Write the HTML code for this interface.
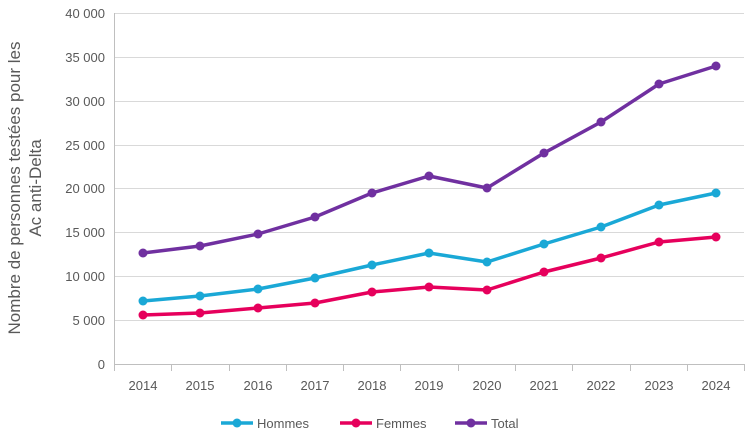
<!DOCTYPE html>
<html><head><meta charset="utf-8"><style>body{margin:0;background:#fff}svg{display:block;font-family:"Liberation Sans",sans-serif}</style></head><body>
<svg width="756" height="432" viewBox="0 0 756 432">
<g stroke="#d9d9d9" stroke-width="1">
<line x1="114" y1="13.5" x2="744" y2="13.5"/><line x1="114" y1="57.5" x2="744" y2="57.5"/><line x1="114" y1="101.5" x2="744" y2="101.5"/><line x1="114" y1="145.5" x2="744" y2="145.5"/><line x1="114" y1="188.5" x2="744" y2="188.5"/><line x1="114" y1="232.5" x2="744" y2="232.5"/><line x1="114" y1="276.5" x2="744" y2="276.5"/><line x1="114" y1="320.5" x2="744" y2="320.5"/>
</g>
<g stroke="#bfbfbf" stroke-width="1">
<line x1="114.5" y1="13" x2="114.5" y2="364"/>
<line x1="114" y1="364.5" x2="744" y2="364.5"/>
<path d="M114.5 364v7M171.5 364v7M229.5 364v7M286.5 364v7M343.5 364v7M400.5 364v7M458.5 364v7M515.5 364v7M572.5 364v7M630.5 364v7M687.5 364v7M744.5 364v7"/>
</g>
<g fill="#595959" font-size="13" text-anchor="end">
<text x="105" y="18">40 000</text><text x="105" y="62">35 000</text><text x="105" y="106">30 000</text><text x="105" y="150">25 000</text><text x="105" y="193">20 000</text><text x="105" y="237">15 000</text><text x="105" y="281">10 000</text><text x="105" y="325">5 000</text><text x="105" y="369">0</text>
</g>
<g fill="#595959" font-size="13" text-anchor="middle">
<text x="143" y="390">2014</text><text x="200" y="390">2015</text><text x="258" y="390">2016</text><text x="315" y="390">2017</text><text x="372" y="390">2018</text><text x="429" y="390">2019</text><text x="487" y="390">2020</text><text x="544" y="390">2021</text><text x="601" y="390">2022</text><text x="659" y="390">2023</text><text x="716" y="390">2024</text>
</g>
<g fill="#595959" font-size="17" text-anchor="middle">
<text transform="translate(20,188) rotate(-90)">Nombre de personnes testées pour les</text>
<text transform="translate(41,188) rotate(-90)">Ac anti-Delta</text>
</g>
<g fill="none" stroke-width="3.5" stroke-linejoin="round">
<polyline stroke="#7030a0" points="143,253 200,246 258,234 315,217 372,193 429,176 487,188 544,153 601,122 659,84 716,66"/>
<polyline stroke="#1aa8d6" points="143,301 200,296 258,289 315,278 372,265 429,253 487,262 544,244 601,227 659,205 716,193"/>
<polyline stroke="#e6005c" points="143,315 200,313 258,308 315,303 372,292 429,287 487,290 544,272 601,258 659,242 716,237"/>
</g>
<g fill="#7030a0"><circle cx="143" cy="253" r="4.5"/><circle cx="200" cy="246" r="4.5"/><circle cx="258" cy="234" r="4.5"/><circle cx="315" cy="217" r="4.5"/><circle cx="372" cy="193" r="4.5"/><circle cx="429" cy="176" r="4.5"/><circle cx="487" cy="188" r="4.5"/><circle cx="544" cy="153" r="4.5"/><circle cx="601" cy="122" r="4.5"/><circle cx="659" cy="84" r="4.5"/><circle cx="716" cy="66" r="4.5"/></g>
<g fill="#1aa8d6"><circle cx="143" cy="301" r="4.5"/><circle cx="200" cy="296" r="4.5"/><circle cx="258" cy="289" r="4.5"/><circle cx="315" cy="278" r="4.5"/><circle cx="372" cy="265" r="4.5"/><circle cx="429" cy="253" r="4.5"/><circle cx="487" cy="262" r="4.5"/><circle cx="544" cy="244" r="4.5"/><circle cx="601" cy="227" r="4.5"/><circle cx="659" cy="205" r="4.5"/><circle cx="716" cy="193" r="4.5"/></g>
<g fill="#e6005c"><circle cx="143" cy="315" r="4.5"/><circle cx="200" cy="313" r="4.5"/><circle cx="258" cy="308" r="4.5"/><circle cx="315" cy="303" r="4.5"/><circle cx="372" cy="292" r="4.5"/><circle cx="429" cy="287" r="4.5"/><circle cx="487" cy="290" r="4.5"/><circle cx="544" cy="272" r="4.5"/><circle cx="601" cy="258" r="4.5"/><circle cx="659" cy="242" r="4.5"/><circle cx="716" cy="237" r="4.5"/></g>
<g stroke-width="3.5"><line x1="221" y1="423" x2="253" y2="423" stroke="#1aa8d6"/><line x1="340" y1="423" x2="372" y2="423" stroke="#e6005c"/><line x1="455" y1="423" x2="487" y2="423" stroke="#7030a0"/></g>
<circle cx="237" cy="423" r="4.5" fill="#1aa8d6"/><circle cx="356" cy="423" r="4.5" fill="#e6005c"/><circle cx="471" cy="423" r="4.5" fill="#7030a0"/>
<g fill="#595959" font-size="13"><text x="257" y="428">Hommes</text><text x="376" y="428">Femmes</text><text x="491" y="428">Total</text></g>
</svg>
</body></html>
